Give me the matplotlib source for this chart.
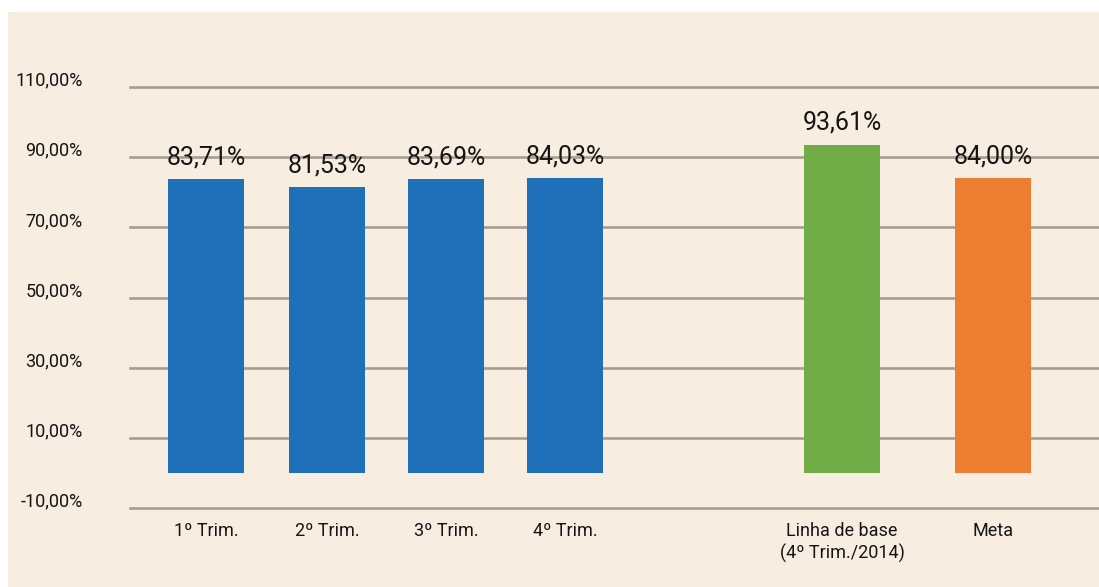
import matplotlib
matplotlib.use("Agg")
import matplotlib.pyplot as plt
import matplotlib.transforms as mtransforms
from matplotlib.patches import Rectangle

plt.rcParams['font.family'] = ['Roboto', 'DejaVu Sans']

categories = ["1º Trim.", "2º Trim.", "3º Trim.", "4º Trim.",
              "Linha de base\n(4º Trim./2014)", "Meta"]
values = [83.71, 81.53, 83.69, 84.03, 93.61, 84.00]
value_labels = ["83,71%", "81,53%", "83,69%", "84,03%", "93,61%", "84,00%"]
yticks = [-10, 10, 30, 50, 70, 90, 110]
ytick_labels = ["-10,00%", "10,00%", "30,00%", "50,00%", "70,00%", "90,00%", "110,00%"]

# layout
xpos = [0, 1.008, 2.0, 2.99, 5.3, 6.558]
colors = ["#1F70B8", "#1F70B8", "#1F70B8", "#1F70B8", "#70AD47", "#ED7D31"]
bg = "#F7EDE0"
txt = "#151515"

W, H = 1099, 587
fig = plt.figure(figsize=(W / 100, H / 100), dpi=100, facecolor="white")
fig.patches.append(Rectangle((8 / W, 0), 1 - 8 / W, 1 - 12 / H,
                             transform=fig.transFigure, facecolor=bg,
                             edgecolor="none", zorder=-10))

ax = fig.add_axes([130 / W, 1 - 508 / H, 1 - 130 / W, (508 - 87) / H])
ax.set_facecolor("none")
ax.set_xlim(-0.633, 7.44)
ax.set_ylim(-10, 110)

for y in yticks:
    ax.axhline(y, color="#A69E93", linewidth=1.9, zorder=0, clip_on=False)

bars = ax.bar(xpos, values, width=0.633, color=colors, zorder=2)

for b, lab in zip(bars, value_labels):
    ax.annotate(lab, (b.get_x() + b.get_width() / 2, b.get_height()),
                xytext=(0, 7), textcoords="offset points",
                ha="center", va="bottom", fontsize=18, color=txt)

ax.set_yticks(yticks)
ax.set_yticklabels(ytick_labels, fontsize=13, color=txt)
ax.tick_params(axis="y", length=0, pad=34)
off = mtransforms.ScaledTranslation(0, 6 / 72, fig.dpi_scale_trans)
for lbl in ax.get_yticklabels():
    lbl.set_transform(lbl.get_transform() + off)

ax.set_xticks(xpos)
ax.set_xticklabels(categories, fontsize=13, color=txt, linespacing=1.25)
ax.tick_params(axis="x", length=0, pad=10)

for s in ax.spines.values():
    s.set_visible(False)

fig.savefig("out.png", dpi=100, facecolor="white")
